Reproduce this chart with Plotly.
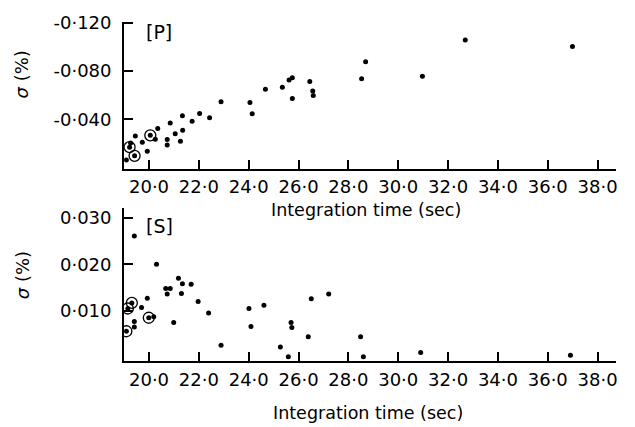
import plotly.graph_objects as go

# ---- data ----
p_time = [19.45, 19.26, 19.22, 19.42, 19.09, 19.73, 19.93, 20.05, 20.25, 20.35,
          20.73, 20.73, 20.85, 21.05, 21.26, 21.35, 21.34, 21.73, 22.03, 22.43,
          22.89, 24.05, 24.14, 24.67, 25.35, 25.62, 25.75, 25.75, 26.45, 26.57,
          26.59, 28.53, 28.69, 30.97, 32.69, 36.99]
p_sigma = [-0.0261, -0.0202, -0.0168, -0.0096, -0.0061, -0.0208, -0.0133, -0.0266, -0.0234, -0.0322,
           -0.0232, -0.0186, -0.0368, -0.0280, -0.0218, -0.0309, -0.0429, -0.0384, -0.0448, -0.0413,
           -0.0546, -0.0538, -0.0445, -0.0648, -0.0666, -0.0725, -0.0744, -0.0573, -0.0714, -0.0634,
           -0.0597, -0.0736, -0.0877, -0.0757, -0.1058, -0.1005]
p_circ_time = [19.22, 19.42, 20.05]
p_circ_sigma = [-0.0168, -0.0096, -0.0266]

s_time = [19.41, 20.30, 21.18, 21.34, 21.69, 20.67, 20.85, 20.73, 21.30, 19.93,
          21.97, 19.31, 19.15, 19.70, 19.99, 20.19, 19.41, 19.41, 19.09, 20.99,
          22.39, 22.89, 24.01, 24.09, 24.61, 25.27, 25.59, 25.70, 25.73, 26.39,
          26.51, 27.21, 28.49, 28.60, 30.90, 36.91]
s_sigma = [0.0261, 0.0200, 0.0170, 0.0158, 0.0157, 0.0148, 0.0148, 0.0136, 0.0137, 0.0127,
           0.0120, 0.0117, 0.0105, 0.0107, 0.0085, 0.0087, 0.0077, 0.0065, 0.0056, 0.0075,
           0.0095, 0.0026, 0.0105, 0.0066, 0.0112, 0.0022, 0.0001, 0.0075, 0.0064, 0.0044,
           0.0126, 0.0136, 0.0044, 0.0001, 0.0010, 0.0004]
s_circ_time = [19.31, 19.15, 19.99, 19.09]
s_circ_sigma = [0.0117, 0.0105, 0.0085, 0.0056]

x_tickvals = [20, 22, 24, 26, 28, 30, 32, 34, 36, 38]
x_ticktext = ["20·0", "22·0", "24·0", "26·0", "28·0", "30·0", "32·0", "34·0", "36·0", "38·0"]
p_tickvals = [-0.120, -0.080, -0.040]
p_ticktext = ["-0·120", "-0·080", "-0·040"]
s_tickvals = [0.030, 0.020, 0.010]
s_ticktext = ["0·030", "0·020", "0·010"]

FONT = "DejaVu Sans"
W, H = 635, 427

fig = go.Figure()
dot = dict(color="black", size=5)
circ = dict(color="rgba(0,0,0,0)", size=11, line=dict(color="black", width=1.3))
fig.add_trace(go.Scatter(x=p_time, y=p_sigma, mode="markers", marker=dot, xaxis="x", yaxis="y"))
fig.add_trace(go.Scatter(x=p_circ_time, y=p_circ_sigma, mode="markers", marker=circ, xaxis="x", yaxis="y"))
fig.add_trace(go.Scatter(x=s_time, y=s_sigma, mode="markers", marker=dot, xaxis="x2", yaxis="y2"))
fig.add_trace(go.Scatter(x=s_circ_time, y=s_circ_sigma, mode="markers", marker=circ, xaxis="x2", yaxis="y2"))

xdom = [124.5 / W, 618 / W]
top_dom = [1 - 163 / H, 1 - 13 / H]
bot_dom = [1 - 360 / H, 1 - 203 / H]

common = dict(showline=True, linecolor="black", linewidth=2, ticks="inside", ticklen=9,
              tickwidth=1.5, tickcolor="black", showgrid=False, zeroline=False,
              tickfont=dict(family=FONT, size=18, color="black"), fixedrange=True)

fig.update_layout(
    width=W, height=H, margin=dict(l=0, r=0, t=0, b=0),
    paper_bgcolor="white", plot_bgcolor="white", showlegend=False,
    xaxis=dict(domain=xdom, range=[19.0, 38.74], tickvals=x_tickvals, ticktext=x_ticktext,
               anchor="y", ticklabelstandoff=1, **common),
    yaxis=dict(domain=top_dom, range=[0.001, -0.121], tickvals=p_tickvals, ticktext=p_ticktext,
               anchor="x", ticklabelstandoff=7, **common),
    xaxis2=dict(domain=xdom, range=[19.0, 38.74], tickvals=x_tickvals, ticktext=x_ticktext,
                anchor="y2", ticklabelstandoff=1, **common),
    yaxis2=dict(domain=bot_dom, range=[-0.0009, 0.0322], tickvals=s_tickvals, ticktext=s_ticktext,
                anchor="x2", ticklabelstandoff=7, **common),
)

def ann(text, x, y, angle=0, size=16):
    fig.add_annotation(text=text, x=x / W, y=1 - y / H, xref="paper", yref="paper",
                       showarrow=False, textangle=angle, xanchor="center", yanchor="middle",
                       font=dict(family=FONT, size=size, color="black"))

ann("Integration time (sec)", 367, 205, size=17.5)
ann("Integration time (sec)", 369, 413, size=17.5)
ann("<i>σ</i> (%)", 22, 67, angle=-90, size=18)
ann("<i>σ</i> (%)", 22, 272, angle=-90, size=18)
ann("[P]", 160, 24, size=19)
ann("[S]", 160, 222, size=19)

fig.write_html("out.html")
